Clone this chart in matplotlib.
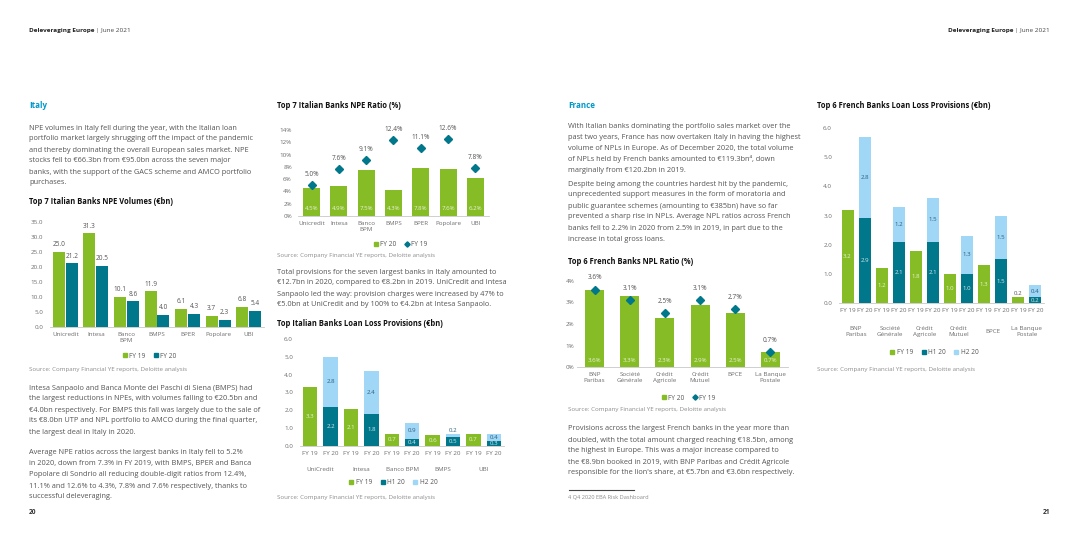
import matplotlib.pyplot as plt
from matplotlib.lines import Line2D
import numpy as np

plt.rcParams['font.family'] = ['Open Sans', 'DejaVu Sans']

W, H = 1080, 540
GREEN = '#86BC25'
TEAL = '#00778B'
LIGHT = '#A0D6F6'
BODY = '#555555'
TICK = '#6E6E6E'
BLUE = '#0097C9'
SRC = '#8C8C8C'

# Italy: NPE volumes (EUR bn)
it_banks = ['Unicredit', 'Intesa', 'Banco\nBPM', 'BMPS', 'BPER', 'Popolare', 'UBI']
it_npe_fy19 = [25.0, 31.3, 10.1, 11.9, 6.1, 3.7, 6.8]
it_npe_fy20 = [21.2, 20.5, 8.6, 4.0, 4.3, 2.3, 5.4]

# Italy: NPE ratio (%)
it_ratio_fy20 = [4.5, 4.9, 7.5, 4.3, 7.8, 7.6, 6.2]
it_ratio_fy19 = [5.0, 7.6, 9.1, 12.4, 11.1, 12.6, 7.8]

# Italy: loan loss provisions (EUR bn)
it_llp_banks = ['UniCredit', 'Intesa', 'Banco BPM', 'BMPS', 'UBI']
it_llp_fy19 = [3.3, 2.1, 0.7, 0.6, 0.7]
it_llp_h1 = [2.2, 1.8, 0.4, 0.5, 0.3]
it_llp_h2 = [2.8, 2.4, 0.9, 0.2, 0.4]

# France: NPL ratio (%)
fr_banks = ['BNP\nParibas', 'Société\nGénérale', 'Crédit\nAgricole', 'Crédit\nMutuel',
            'BPCE', 'La Banque\nPostale']
fr_ratio_fy20 = [3.6, 3.3, 2.3, 2.9, 2.5, 0.7]
fr_ratio_fy19 = [3.6, 3.1, 2.5, 3.1, 2.7, 0.7]

# France: loan loss provisions (EUR bn)
fr_llp_fy19 = [3.2, 1.2, 1.8, 1.0, 1.3, 0.2]
fr_llp_h1 = [2.9, 2.1, 2.1, 1.0, 1.5, 0.2]
fr_llp_h2 = [2.8, 1.2, 1.5, 1.3, 1.5, 0.4]

fig = plt.figure(figsize=(W / 100, H / 100), dpi=100)
fig.patch.set_facecolor('white')
renderer = fig.canvas.get_renderer()


def fx(x):
    return x / W


def fy(y):
    return 1 - y / H


def axes_px(l, t, r, b):
    return fig.add_axes([fx(l), fy(b), (r - l) / W, (b - t) / H])


def txt(x, y, s, size=5.3, color=BODY, weight='normal', ha='left'):
    return fig.text(fx(x), fy(y), s, fontsize=size, color=color, weight=weight,
                    ha=ha, va='center')


def para(x, y0, lines, dy=11):
    for i, line in enumerate(lines):
        txt(x, y0 + i * dy, line)


def header(x, y, right=False):
    # bold title followed by the regular date part, placed from measured widths
    if not right:
        t = txt(x, y, 'Deleveraging Europe', size=4.6, color='#222222', weight='bold')
        w = t.get_window_extent(renderer).width
        txt(x + w + 2, y, '| June 2021', size=4.6, color='#444444')
    else:
        t = txt(x, y, '| June 2021', size=4.6, color='#444444', ha='right')
        w = t.get_window_extent(renderer).width
        txt(x - w - 2, y, 'Deleveraging Europe', size=4.6, color='#222222',
            weight='bold', ha='right')


def style(ax, ymax, step, fmt, pad):
    ax.set_ylim(0, ymax)
    ticks = np.arange(0, ymax + step / 2, step)
    ax.set_yticks(ticks)
    ax.set_yticklabels([fmt.format(t) for t in ticks])
    for s in ['top', 'right', 'left']:
        ax.spines[s].set_visible(False)
    ax.spines['bottom'].set_color('#C8C8C8')
    ax.spines['bottom'].set_linewidth(0.6)
    ax.tick_params(length=0, labelsize=4.5, colors=TICK, pad=pad)
    ax.tick_params(axis='x', pad=3.5)
    ax.set_facecolor('none')


def legend(x, y, items):
    handles = []
    for color, marker in items[0]:
        handles.append(Line2D([], [], ls='', marker=marker, color=color,
                              markersize=3.3 if marker == 's' else 2.7))
    fig.legend(handles, items[1], loc='center', bbox_to_anchor=(fx(x), fy(y)),
               ncol=len(handles), frameon=False, fontsize=4.7, labelcolor=BODY,
               handletextpad=0.2, columnspacing=1.2, handlelength=0.9)


def stacked(ax, fy19, h1, h2, names, name_y):
    n = len(fy19)
    x19 = np.arange(n) * 2
    x20 = x19 + 1
    w = 0.7
    ax.bar(x19, fy19, w, color=GREEN)
    ax.bar(x20, h1, w, color=TEAL)
    ax.bar(x20, h2, w, bottom=h1, color=LIGHT)
    for i in range(n):
        for xx, base, v, col in [(x19[i], 0, fy19[i], '#E8F3D2'),
                                 (x20[i], 0, h1[i], '#D5EAEE'),
                                 (x20[i], h1[i], h2[i], '#2E5F7E')]:
            if v >= 0.3 or col == '#D5EAEE':
                ax.text(xx, base + v / 2, f'{v:.1f}', ha='center', va='center',
                        fontsize=4.4, color=col)
            else:
                ax.text(xx, base + v + 0.05, f'{v:.1f}', ha='center', va='bottom',
                        fontsize=4.4, color=BODY if col != '#2E5F7E' else '#2E5F7E')
    ax.set_xticks(np.concatenate([x19, x20]))
    ax.set_xticklabels(['FY 19'] * n + ['FY 20'] * n)
    ax.set_xlim(-0.5, 2 * n - 0.5)
    tr = ax.get_xaxis_transform()
    for i, nm in enumerate(names):
        ax.text(x19[i] + 0.5, name_y, nm, transform=tr, ha='center', va='center',
                fontsize=4.5, color=TICK, linespacing=1.3)


# ---------------- page headers ----------------
header(29, 31)
header(1050, 31, right=True)
txt(29, 513, '20', size=4.8, color='#333333', weight='bold')
txt(1050, 513, '21', size=4.8, color='#333333', weight='bold', ha='right')

# ---------------- column 1: Italy text + NPE volumes ----------------
txt(29, 106, 'Italy', size=5.8, color=BLUE, weight='bold')
para(29, 128, [
    'NPE volumes in Italy fell during the year, with the Italian loan',
    'portfolio market largely shrugging off the impact of the pandemic',
    'and thereby dominating the overall European sales market. NPE',
    'stocks fell to €66.3bn from €95.0bn across the seven major',
    'banks, with the support of the GACS scheme and AMCO portfolio',
    'purchases.'])
txt(29, 201, 'Top 7 Italian Banks NPE Volumes (€bn)', size=5.45, color='#111111', weight='bold')

ax1 = axes_px(50, 222, 264, 327)
xi = np.arange(len(it_banks))
ax1.bar(xi - 0.21, it_npe_fy19, 0.39, color=GREEN)
ax1.bar(xi + 0.21, it_npe_fy20, 0.39, color=TEAL)
for i in xi:
    ax1.text(i - 0.21, it_npe_fy19[i] + 1.2, f'{it_npe_fy19[i]:.1f}', ha='center',
             va='bottom', fontsize=4.7, color=BODY)
    ax1.text(i + 0.21, it_npe_fy20[i] + 1.2, f'{it_npe_fy20[i]:.1f}', ha='center',
             va='bottom', fontsize=4.7, color=BODY)
ax1.set_xlim(-0.5, len(it_banks) - 0.5)
style(ax1, 35, 5, '{:.1f}', 5)
ax1.set_xticks(xi)
ax1.set_xticklabels(it_banks, linespacing=1.3)
legend(149, 356, ([(GREEN, 's'), (TEAL, 's')], ['FY 19', 'FY 20']))
txt(29, 369, 'Source: Company Financial YE reports, Deloitte analysis', size=4.4, color=SRC)

para(29, 388, [
    'Intesa Sanpaolo and Banca Monte dei Paschi di Siena (BMPS) had',
    'the largest reductions in NPEs, with volumes falling to €20.5bn and',
    '€4.0bn respectively. For BMPS this fall was largely due to the sale of',
    'its €8.0bn UTP and NPL portfolio to AMCO during the final quarter,',
    'the largest deal in Italy in 2020.'])
para(29, 453, [
    'Average NPE ratios across the largest banks in Italy fell to 5.2%',
    'in 2020, down from 7.3% in FY 2019, with BMPS, BPER and Banca',
    'Popolare di Sondrio all reducing double-digit ratios from 12.4%,',
    '11.1% and 12.6% to 4.3%, 7.8% and 7.6% respectively, thanks to',
    'successful deleveraging.'])

# ---------------- column 2: Italy NPE ratio + LLP ----------------
txt(277, 106, 'Top 7 Italian Banks NPE Ratio (%)', size=5.45, color='#111111', weight='bold')
ax2 = axes_px(298, 130, 489, 216)
ax2.bar(xi, it_ratio_fy20, 0.62, color=GREEN)
ax2.plot(xi, it_ratio_fy19, ls='', marker='D', color=TEAL, markersize=4.5)
for i in xi:
    ax2.text(i, 0.09, f'{it_ratio_fy20[i]:.1f}%', transform=ax2.get_xaxis_transform(),
             ha='center', va='center', fontsize=4.4, color='#EAF4D8')
    ax2.annotate(f'{it_ratio_fy19[i]:.1f}%', (i, it_ratio_fy19[i]), xytext=(0, 7.5),
                 textcoords='offset points', ha='center', va='center',
                 fontsize=4.7, color=BODY)
ax2.set_xlim(-0.5, len(it_banks) - 0.5)
style(ax2, 14, 2, '{:.0f}%', 4.5)
ax2.set_xticks(xi)
ax2.set_xticklabels(it_banks, linespacing=1.2)
legend(400, 245, ([(GREEN, 's'), (TEAL, 'D')], ['FY 20', 'FY 19']))
txt(277, 256, 'Source: Company Financial YE reports, Deloitte analysis', size=4.4, color=SRC)

para(277, 272, [
    'Total provisions for the seven largest banks in Italy amounted to',
    '€12.7bn in 2020, compared to €8.2bn in 2019. UniCredit and Intesa',
    'Sanpaolo led the way: provision charges were increased by 47% to',
    '€5.0bn at UniCredit and by 100% to €4.2bn at Intesa Sanpaolo.'])
txt(277, 323, 'Top Italian Banks Loan Loss Provisions (€bn)', size=5.45, color='#111111',
    weight='bold')
ax3 = axes_px(300, 339, 504, 446)
stacked(ax3, it_llp_fy19, it_llp_h1, it_llp_h2, it_llp_banks, -0.215)
style(ax3, 6, 1, '{:.1f}', 5)
legend(393, 483, ([(GREEN, 's'), (TEAL, 's'), (LIGHT, 's')], ['FY 19', 'H1 20', 'H2 20']))
txt(277, 498, 'Source: Company Financial YE reports, Deloitte analysis', size=4.4, color=SRC)

# ---------------- column 3: France text + NPL ratio ----------------
txt(568, 106, 'France', size=5.8, color=BLUE, weight='bold')
para(568, 126, [
    'With Italian banks dominating the portfolio sales market over the',
    'past two years, France has now overtaken Italy in having the highest',
    'volume of NPLs in Europe. As of December 2020, the total volume',
    'of NPLs held by French banks amounted to €119.3bn⁴, down',
    'marginally from €120.2bn in 2019.'])
para(568, 184, [
    'Despite being among the countries hardest hit by the pandemic,',
    'unprecedented support measures in the form of moratoria and',
    'public guarantee schemes (amounting to €385bn) have so far',
    'prevented a sharp rise in NPLs. Average NPL ratios across French',
    'banks fell to 2.2% in 2020 from 2.5% in 2019, in part due to the',
    'increase in total gross loans.'])
txt(568, 261, 'Top 6 French Banks NPL Ratio (%)', size=5.45, color='#111111', weight='bold')
ax4 = axes_px(577, 281, 788, 367)
xf = np.arange(len(fr_banks))
ax4.bar(xf, fr_ratio_fy20, 0.54, color=GREEN)
ax4.plot(xf, fr_ratio_fy19, ls='', marker='D', color=TEAL, markersize=4.5)
for i in xf:
    ax4.text(i, 0.08, f'{fr_ratio_fy20[i]:.1f}%', transform=ax4.get_xaxis_transform(),
             ha='center', va='center', fontsize=4.4, color='#EAF4D8')
    ax4.annotate(f'{fr_ratio_fy19[i]:.1f}%', (i, fr_ratio_fy19[i]), xytext=(0, 8.5),
                 textcoords='offset points', ha='center', va='center',
                 fontsize=4.7, color=BODY)
ax4.set_xlim(-0.5, len(fr_banks) - 0.5)
style(ax4, 4, 1, '{:.0f}%', 2)
ax4.set_xticks(xf)
ax4.set_xticklabels(fr_banks, linespacing=1.3)
legend(688, 398, ([(GREEN, 's'), (TEAL, 'D')], ['FY 20', 'FY 19']))
txt(568, 410, 'Source: Company Financial YE reports, Deloitte analysis', size=4.4, color=SRC)

para(568, 429, [
    'Provisions across the largest French banks in the year more than',
    'doubled, with the total amount charged reaching €18.5bn, among',
    'the highest in Europe. This was a major increase compared to',
    'the €8.9bn booked in 2019, with BNP Paribas and Crédit Agricole',
    "responsible for the lion's share, at €5.7bn and €3.6bn respectively."])
fig.add_artist(Line2D([fx(569), fx(634)], [fy(490), fy(490)], color='#444444', lw=0.8))
txt(568, 497, '4 Q4 2020 EBA Risk Dashboard', size=4.1, color=SRC)

# ---------------- column 4: France LLP ----------------
txt(817, 106, 'Top 6 French Banks Loan Loss Provisions (€bn)', size=5.45, color='#111111',
    weight='bold')
ax5 = axes_px(839, 128, 1044, 303)
stacked(ax5, fr_llp_fy19, fr_llp_h1, fr_llp_h2, fr_banks, -0.163)
style(ax5, 6, 1, '{:.1f}', 5)
legend(934, 353, ([(GREEN, 's'), (TEAL, 's'), (LIGHT, 's')], ['FY 19', 'H1 20', 'H2 20']))
txt(817, 369, 'Source: Company Financial YE reports, Deloitte analysis', size=4.4, color=SRC)

fig.savefig('out.png', dpi=100)
